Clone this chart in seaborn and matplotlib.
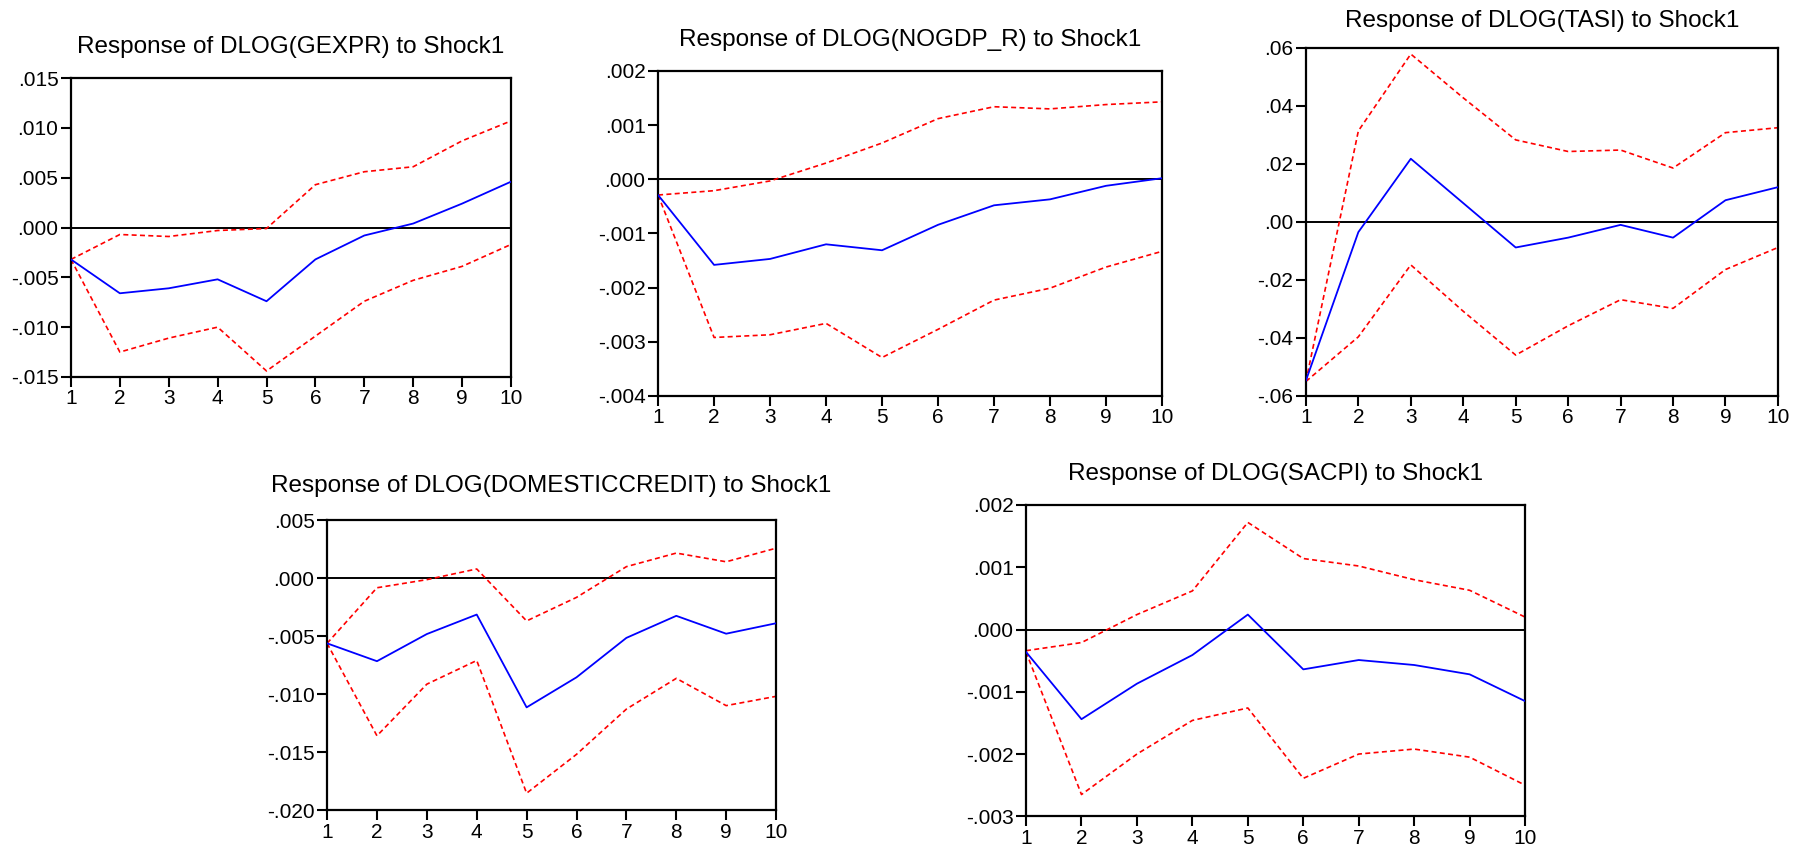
import numpy as np
import pandas as pd
import matplotlib
matplotlib.use("Agg")
import matplotlib.pyplot as plt
import seaborn as sns
from matplotlib.ticker import FuncFormatter, FixedLocator

periods = list(range(1, 11))

titles = [
    "Response of DLOG(GEXPR) to Shock1",
    "Response of DLOG(NOGDP_R) to Shock1",
    "Response of DLOG(TASI) to Shock1",
    "Response of DLOG(DOMESTICCREDIT) to Shock1",
    "Response of DLOG(SACPI) to Shock1",
]

gexpr_resp = [-0.0032, -0.0066, -0.0061, -0.0052, -0.0074, -0.0032, -0.0008, 0.0004, 0.0024, 0.0046]
gexpr_up = [-0.0032, -0.0007, -0.0009, -0.0003, -0.0001, 0.0043, 0.0056, 0.0061, 0.0087, 0.0107]
gexpr_lo = [-0.0032, -0.0125, -0.0111, -0.0100, -0.0144, -0.0109, -0.0074, -0.0053, -0.0039, -0.0017]

nogdp_resp = [-0.00029, -0.00158, -0.00147, -0.00120, -0.00131, -0.00084, -0.00048, -0.00037, -0.00012, 0.00002]
nogdp_up = [-0.00029, -0.00021, -0.00003, 0.00030, 0.00067, 0.00112, 0.00134, 0.00130, 0.00138, 0.00143]
nogdp_lo = [-0.00029, -0.00292, -0.00287, -0.00266, -0.00329, -0.00277, -0.00223, -0.00201, -0.00162, -0.00133]

tasi_resp = [-0.0547, -0.0035, 0.0218, 0.0065, -0.0088, -0.0054, -0.0010, -0.0054, 0.0075, 0.0120]
tasi_up = [-0.0550, 0.0314, 0.0579, 0.0428, 0.0283, 0.0243, 0.0248, 0.0186, 0.0308, 0.0325]
tasi_lo = [-0.0550, -0.0396, -0.0148, -0.0308, -0.0459, -0.0358, -0.0268, -0.0298, -0.0164, -0.0088]

credit_resp = [-0.00563, -0.00717, -0.00483, -0.00315, -0.01115, -0.00856, -0.00516, -0.00326, -0.00480, -0.00390]
credit_up = [-0.00563, -0.00084, -0.00014, 0.00078, -0.00370, -0.00167, 0.00098, 0.00215, 0.00140, 0.00257]
credit_lo = [-0.00563, -0.01360, -0.00915, -0.00711, -0.01855, -0.01520, -0.01130, -0.00865, -0.01100, -0.01020]

sacpi_resp = [-0.00036, -0.00144, -0.00087, -0.00041, 0.00024, -0.00064, -0.00049, -0.00057, -0.00072, -0.00115]
sacpi_up = [-0.00034, -0.00021, 0.00024, 0.00062, 0.00172, 0.00114, 0.00102, 0.00080, 0.00063, 0.00020]
sacpi_lo = [-0.00036, -0.00265, -0.00200, -0.00146, -0.00126, -0.00239, -0.00200, -0.00192, -0.00205, -0.00250]

yticks_list = [
    [-0.015, -0.010, -0.005, 0.000, 0.005, 0.010, 0.015],
    [-0.004, -0.003, -0.002, -0.001, 0.000, 0.001, 0.002],
    [-0.06, -0.04, -0.02, 0.00, 0.02, 0.04, 0.06],
    [-0.020, -0.015, -0.010, -0.005, 0.000, 0.005],
    [-0.003, -0.002, -0.001, 0.000, 0.001, 0.002],
]
decimals = [3, 3, 2, 3, 3]

series = [
    (gexpr_resp, gexpr_up, gexpr_lo),
    (nogdp_resp, nogdp_up, nogdp_lo),
    (tasi_resp, tasi_up, tasi_lo),
    (credit_resp, credit_up, credit_lo),
    (sacpi_resp, sacpi_up, sacpi_lo),
]

# axes rectangles [left, bottom, width, height] in figure fractions
rects = [
    [0.0394, 0.556, 0.2443, 0.352],
    [0.3654, 0.5336, 0.2798, 0.3828],
    [0.7251, 0.5336, 0.2621, 0.4099],
    [0.1816, 0.0459, 0.2493, 0.3416],
    [0.5697, 0.0385, 0.2771, 0.3667],
]
title_pads = [18, 18, 15, 20, 18]

sns.set_style("white")
plt.rcParams['font.family'] = ['Liberation Sans', 'DejaVu Sans']

fig = plt.figure(figsize=(18.01, 8.49), dpi=100)
fig.patch.set_facecolor("white")


def fmt_factory(d):
    def f(v, pos):
        s = f"{v:.{d}f}"
        if s.startswith("-0."):
            s = "-" + s[2:]
        elif s.startswith("0."):
            s = s[1:]
        return s
    return f


for i in range(5):
    ax = fig.add_axes(rects[i])
    resp, up, lo = series[i]
    df = pd.DataFrame({"period": periods, "resp": resp, "up": up, "lo": lo})
    ax.axhline(0, color="black", lw=1.4, zorder=1)
    sns.lineplot(data=df, x="period", y="up", ax=ax, color="#ff0000", lw=1.2,
                 linestyle=(0, (3, 2)), zorder=2)
    sns.lineplot(data=df, x="period", y="lo", ax=ax, color="#ff0000", lw=1.2,
                 linestyle=(0, (3, 2)), zorder=2)
    sns.lineplot(data=df, x="period", y="resp", ax=ax, color="#0000ff", lw=1.3, zorder=3)
    yt = yticks_list[i]
    ax.set_xlim(1, 10)
    ax.set_ylim(yt[0], yt[-1])
    ax.xaxis.set_major_locator(FixedLocator(periods))
    ax.yaxis.set_major_locator(FixedLocator(yt))
    ax.yaxis.set_major_formatter(FuncFormatter(fmt_factory(decimals[i])))
    ax.set_xlabel("")
    ax.set_ylabel("")
    ax.tick_params(axis="both", which="both", direction="out", length=7, width=1.5,
                   labelsize=15, colors="black", pad=2,
                   left=True, bottom=True, right=False, top=False)
    for sp in ax.spines.values():
        sp.set_color("black")
        sp.set_linewidth(1.6)
        sp.set_visible(True)
    ax.set_title(titles[i], fontsize=17.5, pad=title_pads[i], color="black")

fig.savefig("out.png", dpi=100, facecolor="white")
